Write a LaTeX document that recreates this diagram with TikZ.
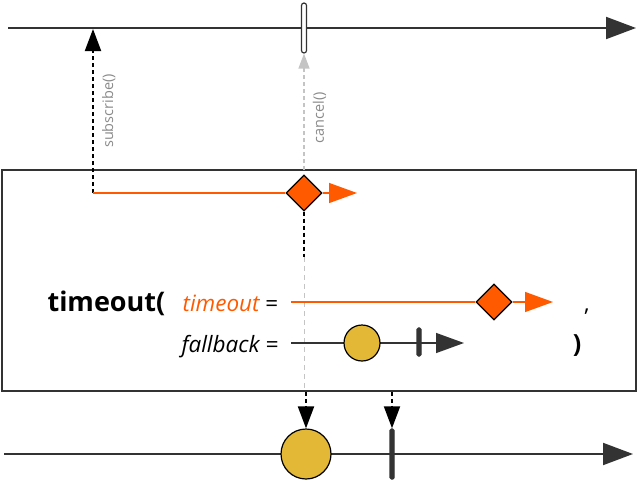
\documentclass[tikz,border=0pt]{standalone}
\usepackage{fontspec}
\setmainfont{Open Sans}
\usetikzlibrary{arrows.meta, positioning, shapes.geometric}
\definecolor{cdark}{HTML}{333333}
\definecolor{corange}{HTML}{FF5A00}
\definecolor{cyellow}{HTML}{E3B836}
\definecolor{cgrey}{HTML}{8A8A8A}
\definecolor{clight}{HTML}{C4C4C4}
\tikzset{
  every picture/.style={x=1pt, y=-1pt, line width=1.4pt},
  timeline/.style={draw=cdark, line width=2pt, -{Triangle[length=30pt, width=22pt]}},
  flow/.style={draw=#1, line width=1.4pt, -{Triangle[length=28pt, width=20pt]}},
  flow/.default=cdark,
  call/.style={draw=#1, dash pattern=on 4pt off 3pt, line width=2pt, -{Triangle[length=22pt, width=16pt]}},
  call/.default=black,
  hint/.style={font=\fontsize{14.5}{17}\selectfont, text=cgrey, rotate=90, anchor=north, inner sep=8pt},
  gem/.style={diamond, draw=black, fill=corange, line width=1.2pt, minimum size=36pt, inner sep=0pt},
  marble/.style={circle, draw=black, fill=cyellow, line width=1.2pt, minimum size=#1, inner sep=0pt},
  tick/.style={draw=cdark, fill=cdark, rounded corners=1.5pt, minimum width=4pt, minimum height=#1, inner sep=0pt},
  code/.style={font=\fontsize{22.5}{26}\selectfont, inner sep=0pt},
  fnname/.style={font=\fontsize{27}{32}\selectfont\bfseries, inner sep=0pt},
}

\begin{document}
\begin{tikzpicture}
  \useasboundingbox (0,0) rectangle (640,482);
  % source stream
  \coordinate (src0) at (8,28);
  \coordinate (src1) at (636,28);
  \draw[timeline] (src0) -- (src1);
  \node[draw=cdark, fill=white, rounded corners=2.5pt, minimum width=5pt, minimum height=50pt, inner sep=0pt, line width=1.2pt] (stop) at (304,28) {};
  % operator box
  \node[draw=cdark, line width=1.6pt, minimum width=634pt, minimum height=221pt, inner sep=0pt] (op) at (319,280.5) {};
  \coordinate (sub) at (93,193);
  \coordinate (subtop) at (93,29);
  \draw[call] (sub) -- (subtop) node[hint, midway] {subscribe()};
  \coordinate (can) at (304,170);
  \draw[call=clight, line width=1.5pt, -{Triangle[length=15pt, width=11pt]}] (can) -- (stop.south) node[hint, pos=.45] {cancel()};
  % timeout fires
  \node[gem] (hit) at (304,193) {};
  \coordinate (hitend) at (357,193);
  \draw[corange] (sub) -- (hit.west);
  \draw[flow=corange] (hit.east) -- (hitend);
  \coordinate (gap) at (304,257);
  \draw[black, dash pattern=on 4pt off 3pt, line width=2pt] (hit.south) -- (gap);
  \draw[clight, dash pattern=on 5pt off 4pt, line width=1pt] (gap) -- (gap |- op.south);
  % arguments
  \node[fnname, anchor=base east] (fn) at (166,311) {timeout(};
  \node[code, anchor=base east] (targ) at (279,311) {\textcolor{corange}{\itshape timeout} =};
  \node[code, anchor=base east] (farg) at (279,352) {\itshape fallback =};
  \node[gem] (tick1) at (494,302) {};
  \coordinate (t0) at (291,302);
  \coordinate (t1) at (553,302);
  \draw[corange] (t0) -- (tick1.west);
  \draw[flow=corange] (tick1.east) -- (t1);
  \node[code, anchor=base] (comma) at (587,311) {,};
  \coordinate (f0) at (291,343);
  \coordinate (f1) at (464,343);
  \draw[flow] (f0) -- (f1);
  \node[marble=36pt] (fv) at (362,343) {};
  \node[tick=28pt] (fend) at (419,342) {};
  \node[fnname, font=\fontsize{25}{30}\selectfont\bfseries, anchor=base] (close) at (577,352) {)};
  % result stream
  \coordinate (out0) at (4,454);
  \coordinate (out1) at (633,454);
  \draw[timeline] (out0) -- (out1);
  \node[marble=50pt] (ov) at (306,454) {};
  \node[tick=50pt] (oend) at (392,454) {};
  \draw[call] (ov |- op.south) -- (ov.north);
  \draw[call] (oend |- op.south) -- (oend.north);
\end{tikzpicture}
\end{document}
